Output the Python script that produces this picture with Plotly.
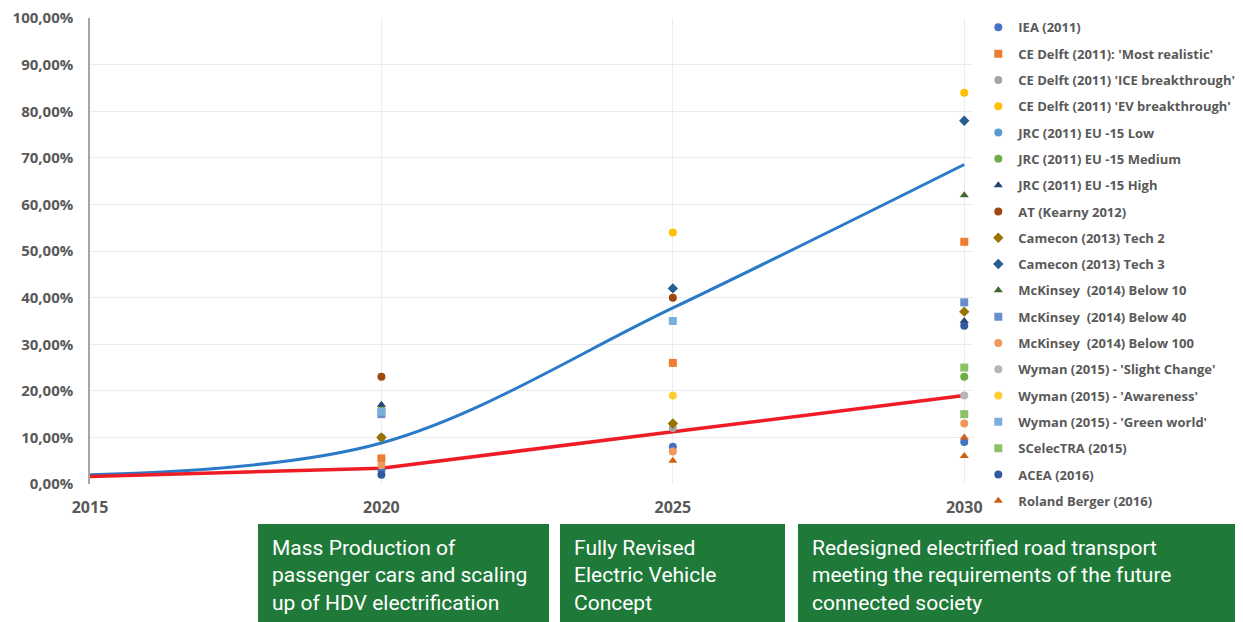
import plotly.graph_objects as go

# trend lines
trend_years = [2015, 2020, 2025, 2030]
blue_trend = [2.0, 8.8, 37.8, 68.6]
red_trend = [1.6, 3.4, 11.2, 19.0]

# scenario points: name, colour, symbol, years, shares (%)
series_names = [
    "IEA (2011)",
    "CE Delft (2011): 'Most realistic'",
    "CE Delft (2011) 'ICE breakthrough'",
    "CE Delft (2011) 'EV breakthrough'",
    "JRC (2011) EU -15 Low",
    "JRC (2011) EU -15 Medium",
    "JRC (2011) EU -15 High",
    "AT (Kearny 2012)",
    "Camecon (2013) Tech 2",
    "Camecon (2013) Tech 3",
    "McKinsey  (2014) Below 10",
    "McKinsey  (2014) Below 40",
    "McKinsey  (2014) Below 100",
    "Wyman (2015) - 'Slight Change'",
    "Wyman (2015) - 'Awareness'",
    "Wyman (2015) - 'Green world'",
    "SCelecTRA (2015)",
    "ACEA (2016)",
    "Roland Berger (2016)",
]
series_years = [
    [2020, 2025, 2030],
    [2020, 2025, 2030],
    [2025],
    [2025, 2030],
    [2020],
    [2020, 2030],
    [2020, 2030],
    [2020, 2025],
    [2020, 2025, 2030],
    [2025, 2030],
    [2030],
    [2020, 2030],
    [2020, 2025, 2030],
    [2030],
    [2025],
    [2020, 2025],
    [2030, 2030],
    [2020, 2030],
    [2025, 2030, 2030],
]
series_values = [
    [3, 8, 9],
    [5.5, 26, 52],
    [12],
    [54, 84],
    [10],
    [16, 23],
    [17, 35],
    [23, 40],
    [10, 13, 37],
    [42, 78],
    [62],
    [15, 39],
    [4, 7, 13],
    [19],
    [19],
    [15.5, 35],
    [25, 15],
    [2, 34],
    [5, 10, 6],
]
colors = ["#4472C4", "#ED7D31", "#A5A5A5", "#FFC000", "#5B9BD5", "#70AD47",
          "#264478", "#9E480E", "#997300", "#255E91", "#43682B", "#698ED0",
          "#F1975A", "#B7B7B7", "#FFCD33", "#7CAFDD", "#8CC168", "#335AA1",
          "#D26012"]
symbols = ["circle", "square", "circle", "circle", "circle", "circle",
           "triangle-up", "circle", "diamond", "diamond", "triangle-up", "square",
           "circle", "circle", "circle", "square", "square", "circle",
           "triangle-up"]

y_ticks = [0, 10, 20, 30, 40, 50, 60, 70, 80, 90, 100]
y_labels = ["0,00%", "10,00%", "20,00%", "30,00%", "40,00%", "50,00%",
            "60,00%", "70,00%", "80,00%", "90,00%", "100,00%"]
x_ticks = [2015, 2020, 2025, 2030]

box_texts = [
    "Mass Production of<br>passenger cars and scaling<br>up of HDV electrification",
    "Fully Revised<br>Electric Vehicle<br>Concept",
    "Redesigned electrified road transport<br>meeting the requirements of the future<br>connected society",
]

grey = "#595959"
fig = go.Figure()

fig.add_trace(go.Scatter(x=trend_years, y=blue_trend, mode="lines",
                         line=dict(color="#2a7ac8", width=3, shape="spline", smoothing=1.0),
                         showlegend=False, hoverinfo="skip"))
fig.add_trace(go.Scatter(x=trend_years, y=red_trend, mode="lines",
                         line=dict(color="#ee1c24", width=3.5),
                         showlegend=False, hoverinfo="skip"))

for i, name in enumerate(series_names):
    fig.add_trace(go.Scatter(
        x=series_years[i], y=series_values[i], mode="markers", name=name,
        legendgroup=f"g{i}",
        marker=dict(color=colors[i], symbol=symbols[i], size=8),
    ))

# green milestone boxes, placed relative to the plot area (883 x 466 px)
W, H = 883, 466
boxes = [(258, 549), (560, 785), (798, 1240)]
for (x0, x1), txt in zip(boxes, box_texts):
    fig.add_shape(type="rect", xref="paper", yref="paper",
                  x0=(x0 - 90) / W, x1=(x1 - 90) / W,
                  y0=(484 - 640) / H, y1=(484 - 524) / H,
                  fillcolor="#1f7a3a", line=dict(width=0), layer="above")
    fig.add_annotation(xref="paper", yref="paper", x=(x0 + 12 - 90) / W,
                       y=(484 - 534) / H, xanchor="left", yanchor="top",
                       text=txt, showarrow=False, align="left",
                       font=dict(family="Roboto", size=21, color="white"))

# page body adds an 8px offset, so the figure is drawn 8px smaller
fig.update_layout(
    width=1235, height=614,
    margin=dict(l=82, r=270, t=10, b=138, autoexpand=False),
    paper_bgcolor="white", plot_bgcolor="white",
    font=dict(family="Open Sans", color=grey),
    legend=dict(x=1.006, y=1.012, xanchor="left", yanchor="top",
                bgcolor="rgba(0,0,0,0)",
                traceorder="grouped", tracegroupgap=6.4, maxheight=620,
                font=dict(family="Open Sans", size=13, color=grey, weight="bold"),
                itemwidth=30),
    xaxis=dict(range=[2015, 2030.15], tickvals=x_ticks,
               showgrid=True, gridcolor="#ececec", zeroline=False,
               showline=False, ticks="", ticklabelstandoff=12, automargin=False,
               tickfont=dict(family="Open Sans", size=16, color=grey, weight="bold")),
    yaxis=dict(range=[0, 100.05], tickvals=y_ticks, ticktext=y_labels,
               ticklabeloverflow="allow",
               showgrid=True, gridcolor="#ececec", zeroline=False,
               showline=True, linecolor="#a6a6a6", linewidth=1.5,
               ticks="", ticklabelstandoff=12, automargin=False,
               tickfont=dict(family="Open Sans", size=15, color=grey, weight="bold")),
)

fig.write_html("out.html")
